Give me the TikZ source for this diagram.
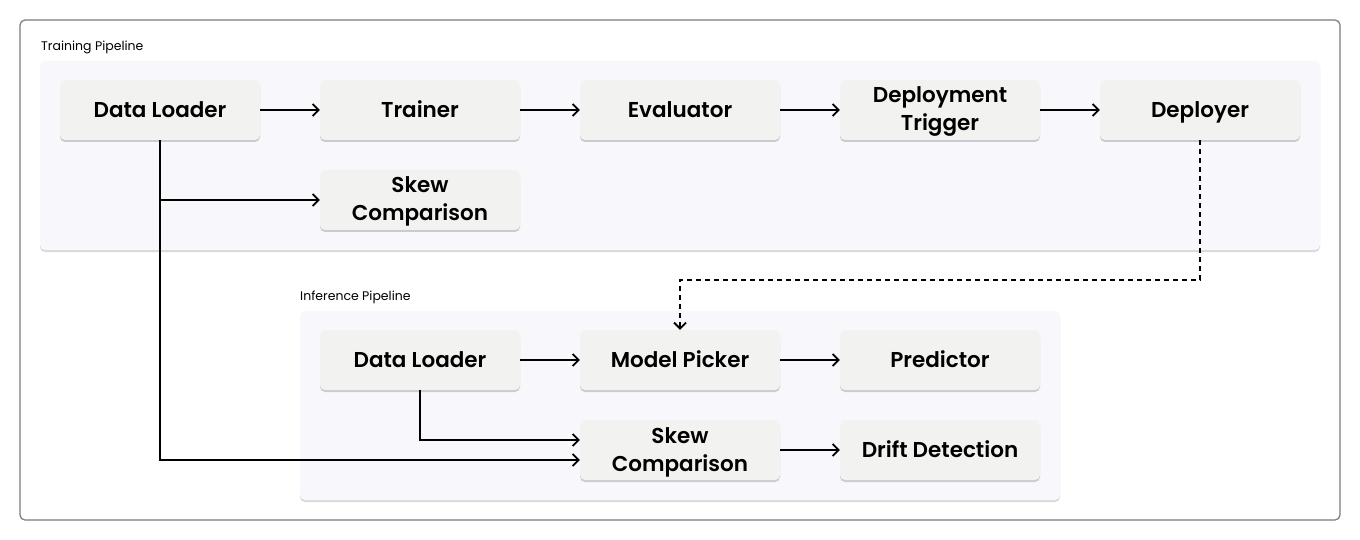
\documentclass[tikz,border=0pt]{standalone}
\usepackage{fontspec}
\setmainfont{Poppins}[BoldFont={Poppins SemiBold}]
\usetikzlibrary{arrows.meta,shadows}
\definecolor{nodefill}{HTML}{F2F2F0}
\definecolor{panelfill}{HTML}{F8F8FC}
\definecolor{framecol}{HTML}{7A7A7A}
\tikzset{
  px/.style={x=1pt,y=-1pt},
  stepbox/.style={draw=none,fill=nodefill,rounded corners=5pt,minimum width=200pt,minimum height=60pt,
    align=center,font=\fontsize{21.5}{28}\selectfont\bfseries,inner sep=0pt,
    drop shadow={shadow xshift=0pt,shadow yshift=-2pt,fill=black,opacity=0.18}},
  oneline/.style={stepbox,text height=17.5pt,text depth=2.5pt},
  twoline/.style={stepbox,text height=44pt,text depth=2pt},
  panel/.style={fill=panelfill,rounded corners=5pt,drop shadow={shadow xshift=0pt,shadow yshift=-2pt,fill=black,opacity=0.15}},
  lbl/.style={font=\fontsize{12.5}{14}\selectfont,anchor=west,inner sep=0pt},
  conn/.style={line width=1.8pt,-{Straight Barb[length=6pt,width=12pt,line width=1.8pt]}},
  dconn/.style={conn,dash pattern=on 5pt off 4pt},
}
\begin{document}
\begin{tikzpicture}[px]
\useasboundingbox (0,0) rectangle (1360,540);
\fill[white] (0,0) rectangle (1360,540);
\draw[framecol,line width=1.2pt,rounded corners=5pt] (20,20) rectangle (1340,520);
\node[lbl] (tlabel) at (41,47) {Training Pipeline};
\path[panel] (40,61) rectangle (1320,250);
\node[lbl] (ilabel) at (300,297) {Inference Pipeline};
\path[panel] (300,311) rectangle (1060,500);

\node[oneline] (tdl) at (160,110) {Data Loader};
\node[oneline] (tr) at (420,110) {Trainer};
\node[oneline] (ev) at (680,110) {Evaluator};
\node[twoline] (dt) at (940,110) {Deployment\\Trigger};
\node[oneline] (dp) at (1200,110) {Deployer};
\node[twoline] (tsk) at (420,200) {Skew\\Comparison};

\node[oneline] (idl) at (420,360) {Data Loader};
\node[oneline] (mp) at (680,360) {Model Picker};
\node[oneline] (pr) at (940,360) {Predictor};
\node[twoline] (isk) at (680,450) {Skew\\Comparison};
\node[oneline] (dd) at (940,450) {Drift Detection};

\draw[conn] (tdl) -- (tr);
\draw[conn] (tr) -- (ev);
\draw[conn] (ev) -- (dt);
\draw[conn] (dt) -- (dp);
\draw[conn] (tdl.south) |- (tsk.west);
\draw[conn] (tdl.south) |- ([yshift=-10pt]isk.west);
\draw[conn] (idl) -- (mp);
\draw[conn] (mp) -- (pr);
\draw[conn] (idl.south) |- ([yshift=10pt]isk.west);
\draw[conn] (isk) -- (dd);
\coordinate (dbend) at (1200,280);
\draw[dconn] (dp.south) -- (dbend) -| (mp.north);
\end{tikzpicture}
\end{document}
